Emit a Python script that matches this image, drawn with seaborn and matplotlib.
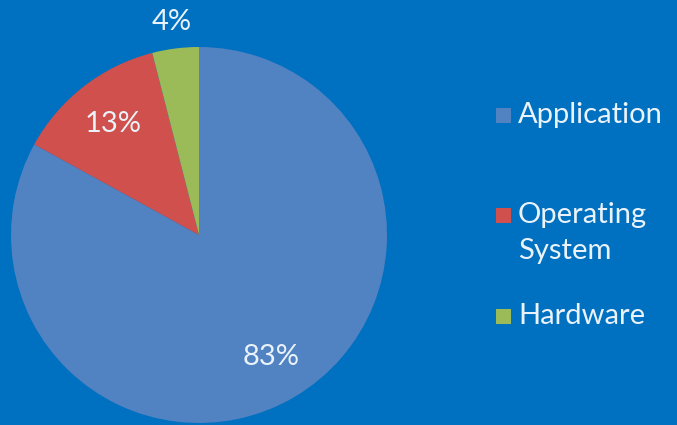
import matplotlib
matplotlib.use("Agg")
import matplotlib.pyplot as plt
import seaborn as sns
import numpy as np
from matplotlib.patches import Rectangle

categories = ["Application", "Operating\nSystem", "Hardware"]
values = [83, 13, 4]
pct_labels = ["83%", "13%", "4%"]

sns.set_theme(style="white")
plt.rcParams['font.family'] = ['Lato', 'DejaVu Sans']

colors = sns.color_palette(["#5182C2", "#CF504C", "#9BBB59"])
bg = "#0070C0"
txt = "#EAF2FA"

W, H = 677, 425
fig = plt.figure(figsize=(W / 100, H / 100), dpi=100, facecolor=bg)
cx, cy, r = 199, 190, 188  # cy measured from bottom
ax = fig.add_axes([(cx - r) / W, (cy - r) / H, 2 * r / W, 2 * r / H])
ax.set_facecolor(bg)
wedges, _ = ax.pie(values, colors=colors, startangle=90, counterclock=False,
                   radius=1.0, wedgeprops=dict(linewidth=0))
ax.set_aspect("equal")
ax.set_xlim(-1, 1)
ax.set_ylim(-1, 1)
ax.axis("off")

dists = [0.755, 0.745, 1.14]
for w, lab, d in zip(wedges, pct_labels, dists):
    ang = np.deg2rad((w.theta1 + w.theta2) / 2)
    ax.text(d * np.cos(ang), d * np.sin(ang), lab, ha="center", va="center",
            color=txt, fontsize=21, clip_on=False)

# legend (manual, Excel-like)
sq = 15
entries_y = [115, 215, 316]  # pixel y from top of first line
for col, lab, y in zip(colors, categories, entries_y):
    fig.patches.append(Rectangle(((496) / W, (H - y - sq / 2) / H), sq / W, sq / H,
                                 transform=fig.transFigure, facecolor=col,
                                 edgecolor="none"))
    lines = lab.split("\n")
    for i, ln in enumerate(lines):
        fig.text(518 / W, (H - (y + i * 36)) / H, ln, ha="left", va="center",
                 color=txt, fontsize=21)

fig.savefig("out.png", dpi=100, facecolor=bg)
